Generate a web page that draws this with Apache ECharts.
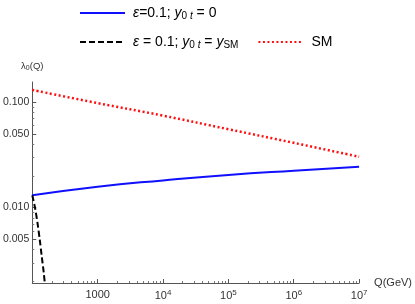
<!DOCTYPE html>
<html>
<head>
<meta charset="utf-8">
<script src="https://cdn.jsdelivr.net/npm/echarts@6/dist/echarts.min.js"></script>
<style>html,body{margin:0;padding:0;background:#fff}#c{width:415px;height:304px}</style>
</head>
<body>
<div id="c"></div>
<script>
const qMain = [100, 1e3, 1e4, 1e5, 1e6, 1e7];
const blueVals = [0.0131, 0.0158, 0.0181, 0.0204, 0.0224, 0.0244];
const redVals = [0.1303, 0.0978, 0.0744, 0.0553, 0.0411, 0.0303];
const qBlack = [100, 110, 120, 130, 140, 150, 160];
const blackVals = [0.0131, 0.0100, 0.0072, 0.0050, 0.0034, 0.0024, 0.0016];
const yLabelValues = [0.005, 0.01, 0.05, 0.1];
const yLabelText = ['0.005', '0.010', '0.050', '0.100'];
const yMinorTicks = [0.002, 0.003, 0.004, 0.006, 0.007, 0.008, 0.009, 0.02, 0.03, 0.04, 0.06, 0.07, 0.08, 0.09];
const xLabelValues = [1e3, 1e4, 1e5, 1e6, 1e7];
const xLabelText = ['1000', '10{sup|4}', '10{sup|5}', '10{sup|6}', '10{sup|7}'];
const xMinorTicks = [];
[100, 1e3, 1e4, 1e5, 1e6].forEach(d => { for (let k = 2; k <= 9; k++) xMinorTicks.push(d * k); });

const FONT = 'Liberation Sans';
const pairs = (xs, ys) => xs.map((x, i) => [x, ys[i]]);
const chart = echarts.init(document.getElementById('c'));
const legText = {
  fontFamily: FONT, fontSize: 14, color: '#000', padding: [0, 0, 0, 3],
  rich: {
    i: { fontFamily: FONT, fontSize: 14, fontStyle: 'italic', color: '#000' },
    s: { fontFamily: FONT, fontSize: 10, color: '#000', padding: [6, 0, 0, 0] },
    si: { fontFamily: FONT, fontSize: 10, fontStyle: 'italic', color: '#000', padding: [6, 0, 0, 0] },
    n: { fontFamily: FONT, fontSize: 14, color: '#000' }
  }
};
const legNames = {
  A: '{i|ε}{n|=0.1; }{i|y}{s|0 }{si|t}{n| = 0}',
  B: '{i|ε}{n| = 0.1; }{i|y}{s|0 }{si|t}{n| = }{i|y}{s|SM}',
  C: '{n|SM}'
};
const yMin = 0.00193, yMax = 0.155;
chart.setOption({
  animation: false,
  grid: { left: 29, right: 53, top: 82, bottom: 21, containLabel: false },
  legend: [
    { data: ['A'], left: 74, top: 1, itemWidth: 45, itemHeight: 14, itemGap: 16, textStyle: legText,
      itemStyle: { opacity: 0 }, formatter: n => legNames[n] },
    { data: ['B', 'C'], left: 74, top: 30, itemWidth: 45, itemHeight: 14, itemGap: 19, textStyle: legText,
      itemStyle: { opacity: 0 }, formatter: n => legNames[n] }
  ],
  xAxis: [
    {
      type: 'log', min: 100, max: 1e7,
      name: 'Q(GeV)', nameLocation: 'end', nameGap: 15,
      nameTextStyle: { fontFamily: FONT, fontSize: 11, color: '#333', verticalAlign: 'middle' },
      axisLine: { lineStyle: { color: '#555', width: 1 } },
      axisTick: { inside: true, length: 4, customValues: xLabelValues, lineStyle: { color: '#555' } },
      axisLabel: {
        customValues: xLabelValues, margin: 6,
        fontFamily: FONT, fontSize: 11, color: '#333',
        formatter: v => { const i = xLabelValues.findIndex(t => Math.abs(t - v) / t < 1e-6); return i >= 0 ? xLabelText[i] : ''; },
        rich: { sup: { fontFamily: FONT, fontSize: 8, color: '#333', verticalAlign: 'top', padding: [0, 0, 6, 0] } }
      },
      splitLine: { show: false }
    },
    {
      type: 'log', min: 100, max: 1e7, position: 'bottom',
      axisLine: { show: false },
      axisTick: { inside: true, length: 2, customValues: xMinorTicks, lineStyle: { color: '#777' } },
      axisLabel: { show: false },
      splitLine: { show: false }
    }
  ],
  yAxis: [
    {
      type: 'log', min: yMin, max: yMax,
      name: 'λ{sub|0}(Q)', nameLocation: 'end', nameGap: 10,
      nameTextStyle: { fontFamily: FONT, fontSize: 9.5, color: '#333', rich: { sub: { fontFamily: FONT, fontSize: 7, color: '#333', padding: [4, 0, 0, 0] } } },
      axisLine: { lineStyle: { color: '#555', width: 1 } },
      axisTick: { inside: true, length: 4, customValues: yLabelValues, lineStyle: { color: '#555' } },
      axisLabel: {
        customValues: yLabelValues, margin: 3,
        fontFamily: FONT, fontSize: 10.5, color: '#333',
        formatter: v => { const i = yLabelValues.findIndex(t => Math.abs(t - v) / t < 1e-6); return i >= 0 ? yLabelText[i] : ''; }
      },
      splitLine: { show: false }
    },
    {
      type: 'log', min: yMin, max: yMax, position: 'left',
      axisLine: { show: false },
      axisTick: { inside: true, length: 2, customValues: yMinorTicks, lineStyle: { color: '#777' } },
      axisLabel: { show: false },
      splitLine: { show: false }
    }
  ],
  series: [
    { name: 'A', type: 'line', data: pairs(qMain, blueVals), smooth: 0.5, symbol: 'none', clip: true,
      lineStyle: { color: '#1010ff', width: 2 }, itemStyle: { color: '#1010ff' } },
    { name: 'B', type: 'line', data: pairs(qBlack, blackVals), smooth: 0.3, symbol: 'none', clip: true,
      lineStyle: { color: '#000', width: 2, type: [6, 3] }, itemStyle: { color: '#000' } },
    { name: 'C', type: 'line', data: pairs(qMain, redVals), smooth: 0.4, symbol: 'none', clip: true,
      lineStyle: { color: '#ff1010', width: 2.5, type: [2, 2.5] }, itemStyle: { color: '#ff1010' } }
  ]
});
</script>
</body>
</html>
